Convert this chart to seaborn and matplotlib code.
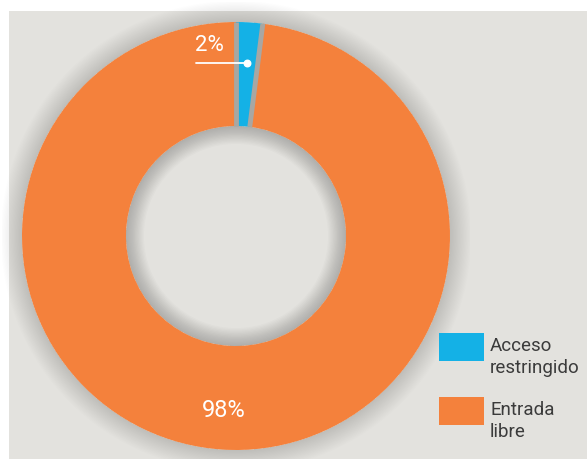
import numpy as np
import seaborn as sns
import matplotlib.pyplot as plt
from matplotlib.patches import Wedge, Rectangle

# datos
categorias = ['Acceso\nrestringido', 'Entrada\nlibre']
valores = [2, 98]
etiquetas = ['2%', '98%']
colores = ['#14b1e6', '#f4813c']

sns.set_theme(style='white')
plt.rcParams['font.family'] = ['Roboto', 'DejaVu Sans']

W, H = 587, 459
fig = plt.figure(figsize=(W / 100, H / 100), dpi=100)
fig.patch.set_facecolor('white')

# panel gris de fondo
fondo = '#e3e2de'
fig.patches.append(Rectangle((9 / W, 0), 1 - 9 / W, (H - 11) / H,
                             transform=fig.transFigure, facecolor=fondo,
                             edgecolor='none', zorder=-5))

cx, cy, r = 236, 236, 214
ax = fig.add_axes([(cx - r - 20) / W, (H - cy - r - 20) / H, (2 * r + 40) / W, (2 * r + 40) / H])
ax.set_zorder(2)

r_in = 110 / r
ancho = 1 - r_in

# sombras suaves
for i in range(18):
    ax.add_patch(Wedge((0, 0), 1 + 0.0055 * (i + 1), 0, 360, width=0.0055 * (i + 1),
                       facecolor='black', alpha=0.009, edgecolor='none', zorder=1))
for i in range(14):
    ax.add_patch(Wedge((0, 0), r_in, 0, 360, width=0.006 * (i + 1),
                       facecolor='black', alpha=0.016, edgecolor='none', zorder=1))

wedges, _ = ax.pie(valores, colors=colores, startangle=90, counterclock=False,
                   radius=1, wedgeprops=dict(width=ancho, linewidth=0))
for w in wedges:
    w.set_zorder(2)

# separadores grises en los bordes del sector azul
for th in (wedges[0].theta1, wedges[0].theta2):
    t = np.deg2rad(th)
    ax.plot([r_in * np.cos(t), np.cos(t)], [r_in * np.sin(t), np.sin(t)],
            color='#a8a7a3', lw=3.5, solid_capstyle='butt', zorder=3)

ext = (r + 20) / r
ax.set_xlim(-ext, ext)
ax.set_ylim(-ext, ext)
ax.set_aspect('equal')
ax.axis('off')

# etiqueta 2% con linea guia
ang = np.deg2rad(90 - valores[0] / sum(valores) * 360 / 2)
px, py = 0.81 * np.cos(ang), 0.81 * np.sin(ang)
ax.plot([px - 0.24, px], [py, py], color='white', lw=1.3, zorder=4)
ax.scatter([px], [py], s=22, color='white', zorder=5)
ax.text(px - 0.175, py + 0.08, etiquetas[0], color='white', fontsize=16,
        ha='center', va='center', zorder=5)

# etiqueta 98%
ax.text(-0.056, -0.815, etiquetas[1], color='white', fontsize=17,
        ha='center', va='center', zorder=5)

# leyenda
for i, (lab, col) in enumerate(zip(categorias, colores)):
    y0 = 333 + i * 64
    fig.patches.append(Rectangle((439 / W, 1 - (y0 + 28) / H), 45 / W, 28 / H,
                                 transform=fig.transFigure, facecolor=col,
                                 edgecolor='none', zorder=3))
    fig.text(490 / W, 1 - (y0 + 4) / H, lab, color='#3b3b3b', fontsize=13.5,
             ha='left', va='top', linespacing=1.3)

fig.savefig('out.png', dpi=100, facecolor=fig.get_facecolor())
